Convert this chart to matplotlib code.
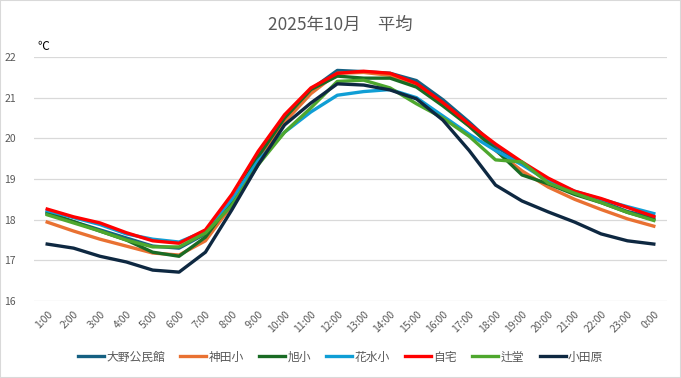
import matplotlib
matplotlib.use('Agg')
import matplotlib.pyplot as plt

plt.rcParams['font.family'] = ['Noto Sans CJK JP', 'DejaVu Sans']

hours = [f"{h}:00" for h in range(1, 24)] + ["0:00"]

oono = [18.15, 17.95, 17.75, 17.55, 17.35, 17.30, 17.65, 18.45, 19.55, 20.45, 21.20, 21.67,
        21.64, 21.60, 21.42, 20.95, 20.40, 19.80, 19.40, 18.95, 18.65, 18.45, 18.20, 18.05]
kanda = [17.94, 17.72, 17.52, 17.35, 17.18, 17.13, 17.48, 18.35, 19.50, 20.40, 21.10, 21.60,
         21.62, 21.55, 21.30, 20.85, 20.30, 19.70, 19.20, 18.80, 18.50, 18.25, 18.02, 17.84]
asahi = [18.18, 17.95, 17.72, 17.50, 17.20, 17.10, 17.57, 18.45, 19.55, 20.50, 21.20, 21.53,
         21.48, 21.48, 21.26, 20.80, 20.30, 19.72, 19.10, 18.88, 18.62, 18.42, 18.18, 18.00]
hanamizu = [18.22, 18.05, 17.88, 17.65, 17.52, 17.45, 17.72, 18.50, 19.45, 20.15, 20.65, 21.06,
            21.15, 21.20, 21.00, 20.55, 20.10, 19.70, 19.35, 18.95, 18.70, 18.50, 18.32, 18.15]
jitaku = [18.26, 18.07, 17.92, 17.68, 17.48, 17.42, 17.75, 18.62, 19.68, 20.58, 21.24, 21.60,
          21.65, 21.60, 21.35, 20.88, 20.35, 19.86, 19.42, 19.02, 18.70, 18.52, 18.30, 18.08]
tsujido = [18.12, 17.92, 17.72, 17.50, 17.33, 17.33, 17.67, 18.35, 19.35, 20.15, 20.75, 21.40,
           21.43, 21.24, 20.85, 20.50, 20.05, 19.47, 19.42, 18.90, 18.65, 18.42, 18.18, 17.98]
odawara = [17.40, 17.30, 17.10, 16.96, 16.76, 16.71, 17.20, 18.24, 19.35, 20.33, 20.87, 21.34,
           21.31, 21.19, 20.97, 20.45, 19.70, 18.85, 18.46, 18.19, 17.94, 17.65, 17.48, 17.40]

series = [
    ("大野公民館", oono, "#156082"),
    ("神田小", kanda, "#E97132"),
    ("旭小", asahi, "#196B24"),
    ("花水小", hanamizu, "#0F9ED5"),
    ("自宅", jitaku, "#FF0000"),
    ("辻堂", tsujido, "#4EA72E"),
    ("小田原", odawara, "#0E2841"),
]

fig = plt.figure(figsize=(6.81, 3.78), dpi=100)
ax = fig.add_axes([34 / 681, 1 - 301 / 378, 633 / 681, 244 / 378])

x = list(range(len(hours)))
for name, vals, color in series:
    ax.plot(x, vals, color=color, linewidth=2.4, label=name, solid_joinstyle='round')

ax.set_xlim(-0.5, len(hours) - 0.5)
ax.set_ylim(16, 22)
ax.set_yticks(range(16, 23))
ax.set_xticks(x)
ax.set_xticklabels(hours, rotation=45, ha='right', rotation_mode='anchor')
ax.tick_params(axis='both', length=0, labelsize=7.5, colors='#595959')
ax.tick_params(axis='y', pad=13)
ax.tick_params(axis='x', pad=6)
ax.grid(True, axis='y', color='#D9D9D9', linewidth=0.9)
ax.set_axisbelow(True)
for s in ax.spines.values():
    s.set_visible(False)

fig.text(340 / 681, 1 - 25 / 378, "2025年10月　平均", ha='center', va='center',
         fontsize=12.5, color='#595959')
fig.text(37 / 681, 1 - 46 / 378, "℃", ha='left', va='center', fontsize=8.5, color='black')

fig.legend(loc='center', bbox_to_anchor=(0.5, 1 - 357 / 378), ncol=7, frameon=False,
           fontsize=8.5, handlelength=2.2, columnspacing=1.3, handletextpad=0.2,
           labelcolor='#595959')

fig.patches.append(plt.Rectangle((0, 0), 1, 1, transform=fig.transFigure, fill=False,
                                 edgecolor='#D9D9D9', linewidth=1.5))

fig.savefig('out.png', dpi=100)
